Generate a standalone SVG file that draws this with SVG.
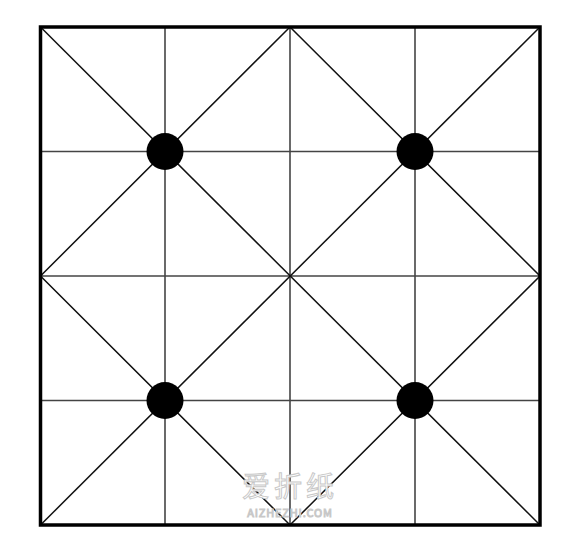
<svg xmlns="http://www.w3.org/2000/svg" width="580" height="552" viewBox="0 0 580 552">
<style>
.grid{stroke:#444;stroke-width:1.6;fill:none}
.diag{stroke:#111;stroke-width:1.5;fill:none}
.frame{stroke:#000;stroke-width:3.5;fill:none}
.dot{fill:#000}
.wm{font-family:"Noto Sans CJK SC","Noto Sans",sans-serif;fill:#fff;stroke:#c8c8c8;stroke-width:1}
</style>
<rect width="580" height="552" fill="#fff"/>
<g id="connectors">
<line class="grid" x1="165" y1="27" x2="165" y2="525"/>
<line class="grid" x1="290" y1="27" x2="290" y2="525"/>
<line class="grid" x1="415" y1="27" x2="415" y2="525"/>
<line class="grid" x1="40.5" y1="151.5" x2="540" y2="151.5"/>
<line class="grid" x1="40.5" y1="276" x2="540" y2="276"/>
<line class="grid" x1="40.5" y1="400.5" x2="540" y2="400.5"/>
<line class="diag" x1="40.5" y1="27" x2="540" y2="525"/>
<line class="diag" x1="540" y1="27" x2="40.5" y2="525"/>
<polygon class="diag" points="290,27 540,276 290,525 40.5,276"/>
</g>
<rect class="frame" x="40.5" y="27" width="499.5" height="498"/>
<g id="dot-tl"><circle class="dot" cx="165" cy="151.5" r="18.5"/></g>
<g id="dot-tr"><circle class="dot" cx="415" cy="151.5" r="18.5"/></g>
<g id="dot-bl"><circle class="dot" cx="165" cy="400.5" r="18.5"/></g>
<g id="dot-br"><circle class="dot" cx="415" cy="400.5" r="18.5"/></g>
<g id="watermark">
<text class="wm" x="290" y="497" font-size="28" text-anchor="middle" letter-spacing="4">爱折纸</text>
<text class="wm" x="290" y="517" font-size="11" text-anchor="middle" letter-spacing="0.8" stroke-width="0.6">AIZHEZHI.COM</text>
</g>
</svg>
